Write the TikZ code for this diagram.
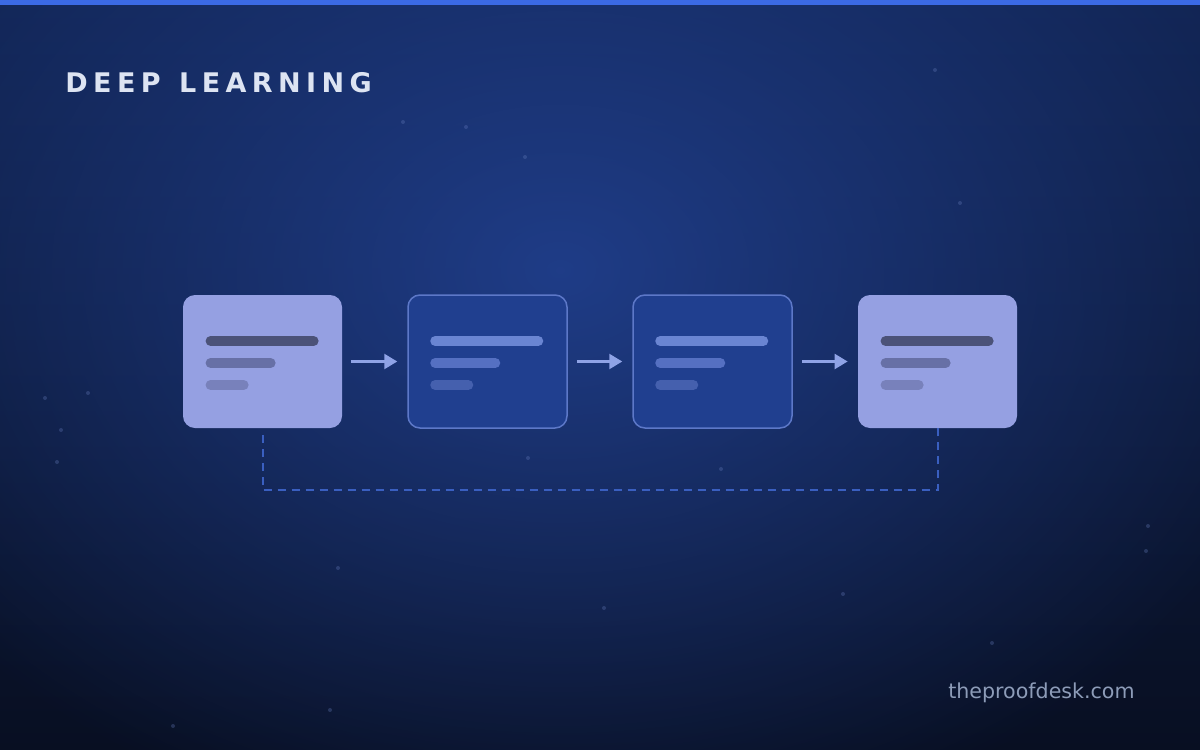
\documentclass[tikz,border=0pt]{standalone}
\usepackage{fontspec}
\setmainfont{DejaVu Sans}
\newfontfamily\titlefont[LetterSpace=20,WordSpace=1.25]{DejaVu Sans}
\usetikzlibrary{arrows.meta,fadings}
\tikzfading[name=glowfade, inner color=transparent!0, outer color=transparent!100]
\definecolor{bgtop}{HTML}{112452}
\definecolor{bgbottom}{HTML}{080F22}
\definecolor{bgglow}{HTML}{21408F}
\definecolor{topbar}{HTML}{3B6AE5}
\definecolor{titlec}{HTML}{DDE4F2}
\definecolor{footc}{HTML}{8D9CB8}
\definecolor{cardlight}{HTML}{95A0E2}
\definecolor{carddark}{HTML}{203F8F}
\definecolor{cardedge}{HTML}{5D78C8}
\definecolor{lbarA}{HTML}{4B5278}
\definecolor{lbarB}{HTML}{6770A6}
\definecolor{lbarC}{HTML}{7881BB}
\definecolor{dbarA}{HTML}{6A85D2}
\definecolor{dbarB}{HTML}{5570C2}
\definecolor{dbarC}{HTML}{4560AE}
\definecolor{arrowc}{HTML}{8FA3E6}
\definecolor{dashc}{HTML}{3A5FC0}
\definecolor{speckc}{HTML}{6A80C0}
\tikzset{
  card/.style={rectangle, rounded corners=6pt, minimum width=79.5pt,
    minimum height=66.5pt, inner sep=0pt},
  lightcard/.style={card, fill=cardlight},
  darkcard/.style={card, fill=carddark, draw=cardedge, line width=0.75pt},
  bar/.style={line width=5pt, line cap=round},
  flow/.style={-{Triangle[length=6.5pt,width=7.5pt]}, line width=1.2pt, draw=arrowc},
  loopline/.style={draw=dashc, line width=1pt, dash pattern=on 4pt off 3pt},
  speck/.style={fill=speckc, opacity=0.3},
}
\begin{document}
\begin{tikzpicture}[x=0.5pt,y=-0.5pt]
      \useasboundingbox (0,0) rectangle (1200,750);
      % background
      \shade[top color=bgtop, bottom color=bgbottom] (0,0) rectangle (1200,750);
      \fill[bgglow, path fading=glowfade, opacity=0.9]
        (560,270) ellipse [x radius=780, y radius=580];
      \foreach \p in {(466,127),(525,157),(403,122),(935,70),(960,203),
          (45,398),(88,393),(61,430),(57,462),(528,458),(721,469),
          (1148,526),(1146,551),(338,568),(604,608),(843,594),
          (992,643),(330,710),(173,726)}
        \fill[speck] \p circle [radius=2];
      \fill[topbar] (0,0) rectangle (1200,5);
      % title and footer
      \node[anchor=base west, text=titlec, inner sep=0pt,
        font=\titlefont\bfseries\fontsize{13.5pt}{16pt}\selectfont]
        (title) at (65,92) {DEEP LEARNING};
      \node[anchor=base east, text=footc, inner sep=0pt,
        font=\fontsize{10.3pt}{12pt}\selectfont]
        (site) at (1135,698) {theproofdesk.com};
      % cards
      \draw
        (262.5,361.5) node[lightcard] (1){}
        (487.5,361.5) node[darkcard] (2){}
        (712.5,361.5) node[darkcard] (3){}
        (937.5,361.5) node[lightcard] (4){};
      \foreach \c in {1,4} {
        \draw[bar, lbarA] ([xshift=14pt,yshift=10.25pt]\c.west) -- ++(103,0);
        \draw[bar, lbarB] ([xshift=14pt,yshift=-0.75pt]\c.west) -- ++(60,0);
        \draw[bar, lbarC] ([xshift=14pt,yshift=-11.75pt]\c.west) -- ++(33,0);
      }
      \foreach \c in {2,3} {
        \draw[bar, dbarA] ([xshift=14pt,yshift=10.25pt]\c.west) -- ++(103,0);
        \draw[bar, dbarB] ([xshift=14pt,yshift=-0.75pt]\c.west) -- ++(60,0);
        \draw[bar, dbarC] ([xshift=14pt,yshift=-11.75pt]\c.west) -- ++(33,0);
      }
      % connectors
      \begin{scope}[flow]
        \draw ([xshift=4.5pt]1.east) to ([xshift=-5pt]2.west);
        \draw ([xshift=4.5pt]2.east) to ([xshift=-5pt]3.west);
        \draw ([xshift=4.5pt]3.east) to ([xshift=-5pt]4.west);
      \end{scope}
      \draw[loopline] ([yshift=-3.5pt]1.south) -- ++(0,55) -| (4.south);
    \end{tikzpicture}
\end{document}
